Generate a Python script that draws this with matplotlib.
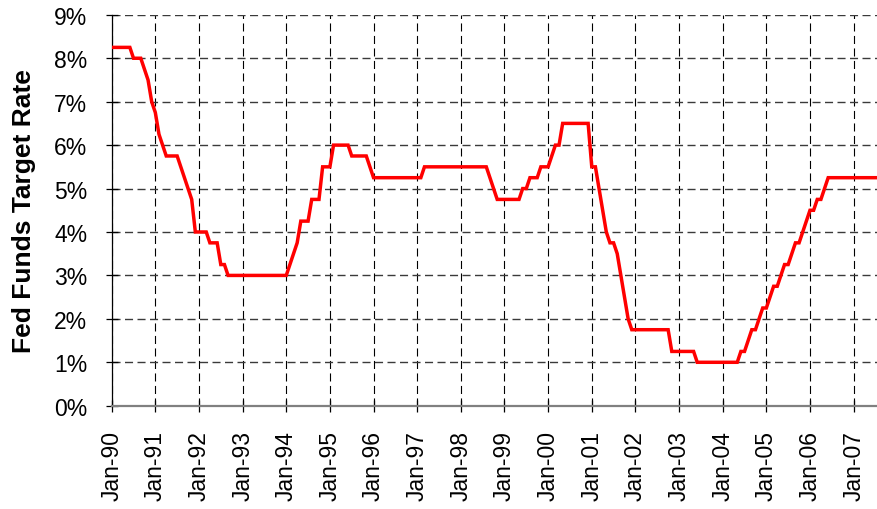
import matplotlib
matplotlib.use("Agg")
import matplotlib.pyplot as plt

# Month-end Fed funds target rate (%), Jan 1990 .. Aug 2007
rate_1990 = [8.25, 8.25, 8.25, 8.25, 8.25, 8.25, 8.0, 8.0, 8.0, 7.75, 7.5, 7.0]
rate_1991 = [6.75, 6.25, 6.0, 5.75, 5.75, 5.75, 5.75, 5.5, 5.25, 5.0, 4.75, 4.0]
rate_1992 = [4.0, 4.0, 4.0, 3.75, 3.75, 3.75, 3.25, 3.25, 3.0, 3.0, 3.0, 3.0]
rate_1993 = [3.0, 3.0, 3.0, 3.0, 3.0, 3.0, 3.0, 3.0, 3.0, 3.0, 3.0, 3.0]
rate_1994 = [3.0, 3.25, 3.5, 3.75, 4.25, 4.25, 4.25, 4.75, 4.75, 4.75, 5.5, 5.5]
rate_1995 = [5.5, 6.0, 6.0, 6.0, 6.0, 6.0, 5.75, 5.75, 5.75, 5.75, 5.75, 5.5]
rate_1996 = [5.25, 5.25, 5.25, 5.25, 5.25, 5.25, 5.25, 5.25, 5.25, 5.25, 5.25, 5.25]
rate_1997 = [5.25, 5.25, 5.5, 5.5, 5.5, 5.5, 5.5, 5.5, 5.5, 5.5, 5.5, 5.5]
rate_1998 = [5.5, 5.5, 5.5, 5.5, 5.5, 5.5, 5.5, 5.5, 5.25, 5.0, 4.75, 4.75]
rate_1999 = [4.75, 4.75, 4.75, 4.75, 4.75, 5.0, 5.0, 5.25, 5.25, 5.25, 5.5, 5.5]
rate_2000 = [5.5, 5.75, 6.0, 6.0, 6.5, 6.5, 6.5, 6.5, 6.5, 6.5, 6.5, 6.5]
rate_2001 = [5.5, 5.5, 5.0, 4.5, 4.0, 3.75, 3.75, 3.5, 3.0, 2.5, 2.0, 1.75]
rate_2002 = [1.75, 1.75, 1.75, 1.75, 1.75, 1.75, 1.75, 1.75, 1.75, 1.75, 1.25, 1.25]
rate_2003 = [1.25, 1.25, 1.25, 1.25, 1.25, 1.0, 1.0, 1.0, 1.0, 1.0, 1.0, 1.0]
rate_2004 = [1.0, 1.0, 1.0, 1.0, 1.0, 1.25, 1.25, 1.5, 1.75, 1.75, 2.0, 2.25]
rate_2005 = [2.25, 2.5, 2.75, 2.75, 3.0, 3.25, 3.25, 3.5, 3.75, 3.75, 4.0, 4.25]
rate_2006 = [4.5, 4.5, 4.75, 4.75, 5.0, 5.25, 5.25, 5.25, 5.25, 5.25, 5.25, 5.25]
rate_2007 = [5.25, 5.25, 5.25, 5.25, 5.25, 5.25, 5.25, 5.25]

rates = (rate_1990 + rate_1991 + rate_1992 + rate_1993 + rate_1994 + rate_1995 +
         rate_1996 + rate_1997 + rate_1998 + rate_1999 + rate_2000 + rate_2001 +
         rate_2002 + rate_2003 + rate_2004 + rate_2005 + rate_2006 + rate_2007)

tick_labels = ["Jan-90", "Jan-91", "Jan-92", "Jan-93", "Jan-94", "Jan-95",
               "Jan-96", "Jan-97", "Jan-98", "Jan-99", "Jan-00", "Jan-01",
               "Jan-02", "Jan-03", "Jan-04", "Jan-05", "Jan-06", "Jan-07"]
y_ticks = [0, 1, 2, 3, 4, 5, 6, 7, 8, 9]
y_label = "Fed Funds Target Rate"

plt.rcParams['font.family'] = ['Liberation Sans', 'DejaVu Sans']
plt.rcParams['lines.scale_dashes'] = False

fig = plt.figure(figsize=(8.78, 5.10), dpi=100)
ax = fig.add_axes([0.1272, 0.2025, 1.0 - 0.1272, 0.969 - 0.2025])

months = list(range(len(rates)))
ax.plot(months, rates, color='#ff0000', linewidth=2.5, solid_joinstyle='miter', zorder=3)

ax.set_xlim(0, 210.7)
ax.set_ylim(0, 9)
ax.set_xticks([12 * i for i in range(len(tick_labels))])
ax.set_xticklabels(tick_labels, rotation=90, fontsize=16.5)
ax.set_yticks(y_ticks)
ax.set_yticklabels([f"{v}%" for v in y_ticks], fontsize=16.5)

ax.tick_params(axis='both', direction='inout', length=9, width=0.9, color='#000000')
ax.tick_params(axis='x', pad=13)
ax.tick_params(axis='y', pad=13)

ax.xaxis.grid(True, color='#000000', linestyle=(0, (5.8, 3.2)), linewidth=0.8, zorder=1)
ax.yaxis.grid(True, color='#3a3a3a', linestyle=(0, (5.8, 3.2)), linewidth=1.0, zorder=1)
ax.set_axisbelow(True)

for s in ['top', 'right']:
    ax.spines[s].set_visible(False)
ax.spines['left'].set_color('#000000')
ax.spines['left'].set_linewidth(0.9)
ax.spines['bottom'].set_color('#808080')
ax.spines['bottom'].set_linewidth(1.6)

ax.set_ylabel(y_label, fontsize=19, fontweight='bold')
ax.yaxis.set_label_coords(-0.099, 0.5)

fig.savefig("out.png", dpi=100)
